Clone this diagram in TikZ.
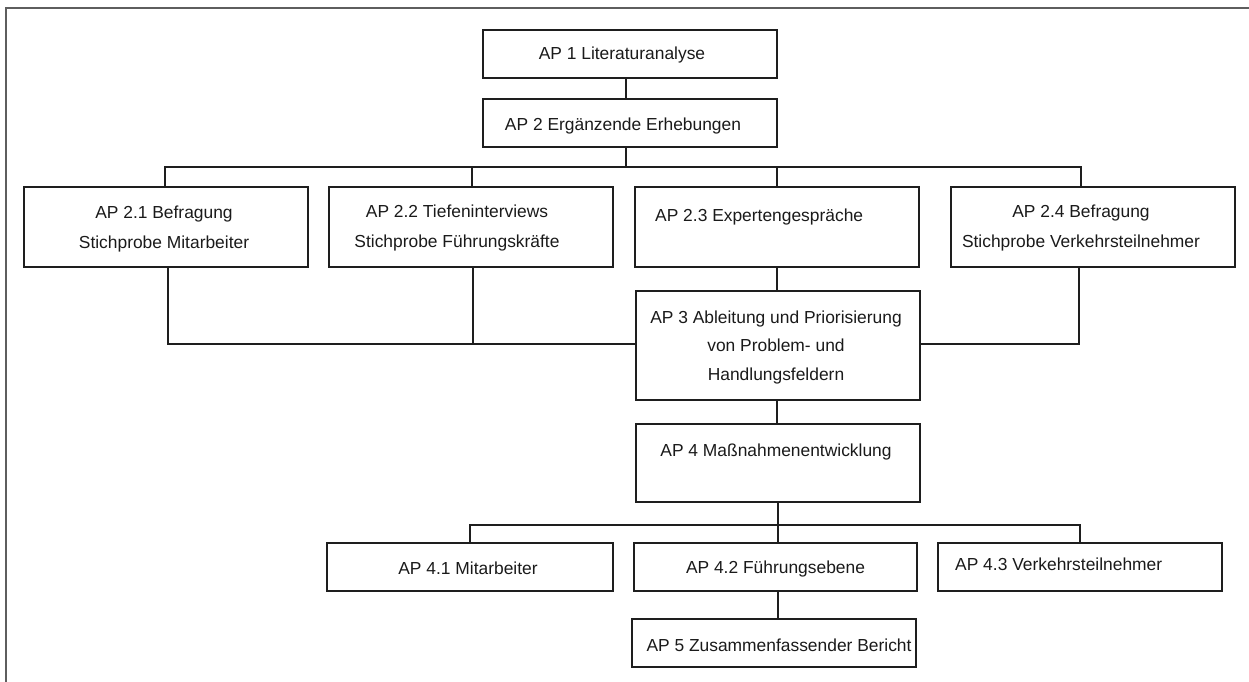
\documentclass[tikz,border=0pt]{standalone}
\usepackage{fontspec}
\setmainfont{Liberation Sans}
\definecolor{boxcol}{HTML}{1E1E1E}
\definecolor{framecol}{HTML}{5E5E5E}
\definecolor{txtcol}{HTML}{1A1A1A}
\begin{document}
\begin{tikzpicture}[x=1pt,y=-1pt,
  box/.style={draw=boxcol,line width=2.3pt,inner sep=0pt,minimum width=#1},
  conn/.style={draw=boxcol,line width=1.9pt},
  lbl/.style={text=txtcol,inner sep=0pt,anchor=base,align=center,font=\fontsize{17.4}{30}\selectfont},
  lblw/.style={lbl,anchor=base west,align=left}]
\useasboundingbox (0,0) rectangle (1249,682);
% frame
\draw[framecol,line width=2pt] (1249,8) -- (6,8) -- (6,682);
% boxes
\node[box=294pt,minimum height=48pt]  (b1)  at (630,54) {};
\node[box=294pt,minimum height=48pt]  (b2)  at (630,123) {};
\node[box=284pt,minimum height=80pt]  (b21) at (166,227) {};
\node[box=284pt,minimum height=80pt]  (b22) at (471,227) {};
\node[box=284pt,minimum height=80pt]  (b23) at (777,227) {};
\node[box=284pt,minimum height=80pt]  (b24) at (1093,227) {};
\node[box=284pt,minimum height=109pt] (b3)  at (778,345.5) {};
\node[box=284pt,minimum height=78pt]  (b4)  at (778,463) {};
\node[box=286pt,minimum height=48pt]  (b41) at (470,567) {};
\node[box=283pt,minimum height=48pt]  (b42) at (775.5,567) {};
\node[box=284pt,minimum height=48pt]  (b43) at (1080,567) {};
\node[box=284pt,minimum height=48pt]  (b5)  at (774,643) {};
% texts (multi-line nodes: base = last line's baseline)
\node[lbl] (t1) at (622,60) {AP 1 Literaturanalyse};
\node[lbl] (t2) at (623,131) {AP 2 Ergänzende Erhebungen};
\node[lbl] (t21) at (164,248) {AP 2.1 Befragung\\Stichprobe Mitarbeiter};
\node[lbl] (t22) at (457,247) {AP 2.2 Tiefeninterviews\\Stichprobe Führungskräfte};
\node[lblw] (t23) at (655,221) {AP 2.3 Expertengespräche};
\node[lbl] (t24) at (1081,247.5) {AP 2.4 Befragung\\Stichprobe Verkehrsteilnehmer};
\node[lbl,font=\fontsize{17.4}{28.5}\selectfont] (t3) at (776,380) {AP 3 Ableitung und Priorisierung\\von Problem- und\\Handlungsfeldern};
\node[lbl] (t4) at (776,456) {AP 4 Maßnahmenentwicklung};
\node[lbl] (t41) at (468,574) {AP 4.1 Mitarbeiter};
\node[lbl] (t42) at (775.5,573.5) {AP 4.2 Führungsebene};
\node[lblw] (t43) at (955,570) {AP 4.3 Verkehrsteilnehmer};
\node[lbl] (t5) at (779,651.5) {AP 5 Zusammenfassender Bericht};
% connectors
\coordinate (j1) at (626,167);
\draw[conn] ([xshift=-4pt]b1.south) -- ([xshift=-4pt]b2.north);
\draw[conn] ([xshift=-4pt]b2.south) -- (j1);
\draw[conn] ([xshift=-1pt]b21.north) |- (j1) -| ([xshift=-12pt]b24.north);
\draw[conn] ([xshift=1pt]b22.north) -- ([xshift=1pt]b22.north |- j1);
\draw[conn] (b23.north) -- (b23.north |- j1);
\coordinate (j2) at ([yshift=1.5pt]b3.west);
\coordinate (j2r) at ([yshift=1.5pt]b3.east);
\draw[conn] ([xshift=2pt]b21.south) |- (j2);
\draw[conn] ([xshift=2pt]b22.south) -- ([xshift=2pt]b22.south |- j2);
\draw[conn] (j2r) -| ([xshift=-14pt]b24.south);
\draw[conn] (b23.south) -- (b23.south |- b3.north);
\draw[conn] ([xshift=-1pt]b3.south) -- ([xshift=-1pt]b4.north);
\coordinate (j3) at (777,525);
\draw[conn] (b4.south) -- (b4.south |- b42.north);
\draw[conn] (b41.north) |- (j3) -| (b43.north);
\draw[conn] ([xshift=2.5pt]b42.south) -- ([xshift=2.5pt]b42.south |- b5.north);
\end{tikzpicture}
\end{document}
